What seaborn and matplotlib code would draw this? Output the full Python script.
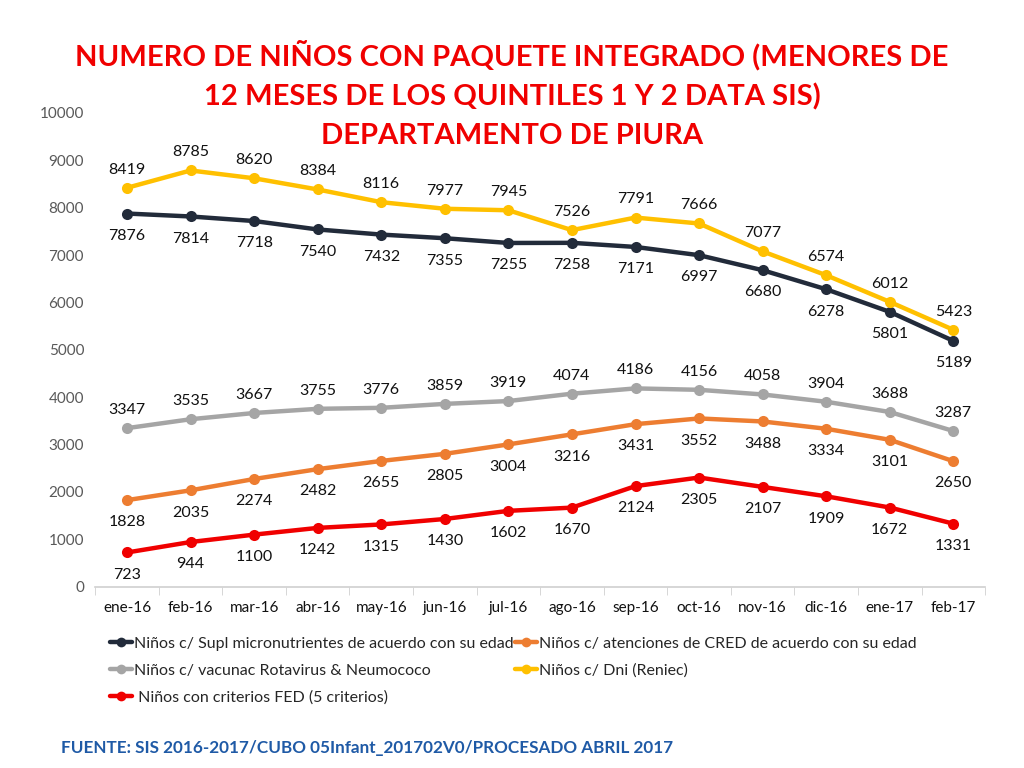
import pandas as pd
import matplotlib
matplotlib.use('Agg')
import matplotlib.pyplot as plt
import seaborn as sns

# Data
months = ['ene-16', 'feb-16', 'mar-16', 'abr-16', 'may-16', 'jun-16', 'jul-16',
          'ago-16', 'sep-16', 'oct-16', 'nov-16', 'dic-16', 'ene-17', 'feb-17']

supl = [7876, 7814, 7718, 7540, 7432, 7355, 7255, 7258, 7171, 6997, 6680, 6278, 5801, 5189]
cred = [1828, 2035, 2274, 2482, 2655, 2805, 3004, 3216, 3431, 3552, 3488, 3334, 3101, 2650]
vacunas = [3347, 3535, 3667, 3755, 3776, 3859, 3919, 4074, 4186, 4156, 4058, 3904, 3688, 3287]
dni = [8419, 8785, 8620, 8384, 8116, 7977, 7945, 7526, 7791, 7666, 7077, 6574, 6012, 5423]
fed = [723, 944, 1100, 1242, 1315, 1430, 1602, 1670, 2124, 2305, 2107, 1909, 1672, 1331]

series_names = ['Niños c/ Supl micronutrientes de acuerdo con su edad',
                'Niños c/ vacunac Rotavirus & Neumococo',
                ' Niños con criterios FED (5 criterios)',
                'Niños c/ atenciones de CRED de acuerdo con su edad',
                'Niños c/ Dni (Reniec)']
series_values = [supl, vacunas, fed, cred, dni]
colors = ['#222B3A', '#A5A5A5', '#F00000', '#ED7D31', '#FFC000']
label_side = ['below', 'above', 'below', 'below', 'above']

title_lines = ['NUMERO DE NIÑOS CON PAQUETE INTEGRADO (MENORES DE',
               '12 MESES DE LOS QUINTILES 1 Y 2 DATA SIS)',
               'DEPARTAMENTO DE PIURA']

sns.set_style('white')
plt.rcParams['font.family'] = ['Lato', 'DejaVu Sans']

rows = []
for name, vals in zip(series_names, series_values):
    for i, v in enumerate(vals):
        rows.append({'x': i, 'Mes': months[i], 'Valor': v, 'Serie': name})
df = pd.DataFrame(rows)

fig = plt.figure(figsize=(10.24, 7.68), dpi=100)
ax = fig.add_axes([0.093, 0.236, 0.869, 0.617])

sns.lineplot(data=df, x='x', y='Valor', hue='Serie', hue_order=series_names,
             palette=dict(zip(series_names, colors)), marker='o', markersize=8,
             markeredgewidth=0, linewidth=3.2, ax=ax, legend=False)

for name, vals, col, side in zip(series_names, series_values, colors, label_side):
    dy = 8 if side == 'above' else -11
    va = 'bottom' if side == 'above' else 'top'
    for i, v in enumerate(vals):
        ax.annotate(str(v), (i, v), xytext=(0, dy), textcoords='offset points',
                    ha='center', va=va, fontsize=11.5, color='#111111')

ax.set_ylim(0, 10000)
ax.set_xlim(-0.5, 13.5)
ax.set_yticks(range(0, 10001, 1000))
ax.set_xticks(range(len(months)))
ax.set_xticklabels(months)
ax.set_xticks([i - 0.5 for i in range(len(months) + 1)], minor=True)
ax.tick_params(axis='x', which='major', length=0, labelsize=11, labelcolor='#111111', pad=10)
ax.tick_params(axis='x', which='minor', length=6, color='#D0D0D0', direction='out', bottom=True)
ax.tick_params(axis='y', length=0, labelsize=11, labelcolor='#595959', pad=8)
ax.set_xlabel('')
ax.set_ylabel('')
for s in ['top', 'right', 'left']:
    ax.spines[s].set_visible(False)
ax.spines['bottom'].set_color('#D0D0D0')
ax.spines['bottom'].set_linewidth(1.2)
ax.grid(False)

handles = [plt.Line2D([0], [0], color=c, lw=3.2, marker='o', markersize=7, markeredgewidth=0)
           for c in colors]
fig.legend(handles, series_names, ncol=2, loc='upper left', bbox_to_anchor=(0.093, 0.19),
           frameon=False, fontsize=11.5, handlelength=1.4, handletextpad=0.1,
           columnspacing=0.1, labelspacing=0.8)

# title as three separate centred lines
for txt, yy in zip(title_lines, [0.928, 0.874, 0.823]):
    fig.text(0.5, yy, txt, ha='center', va='center', fontsize=21,
             fontweight='bold', color='#F00000')

fig.text(0.06, 0.015, 'FUENTE: SIS 2016-2017/CUBO 05Infant_201702V0/PROCESADO ABRIL 2017',
         ha='left', va='bottom', fontsize=12.3, fontweight='bold', color='#1F5AA6')

fig.savefig('out.png', dpi=100)
